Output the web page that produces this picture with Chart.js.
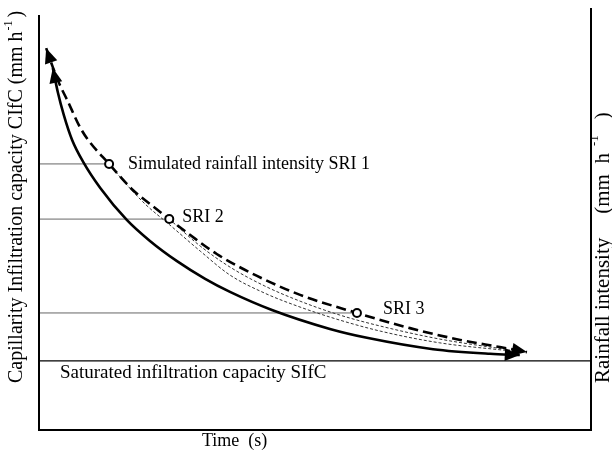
<!DOCTYPE html>
<html>
<head>
<meta charset="utf-8">
<script src="https://cdn.jsdelivr.net/npm/chart.js@4.4.0/dist/chart.umd.min.js"></script>
<style>
  body { margin: 0; background: #fff; }
  #wrap { width: 612px; height: 452px; }
</style>
</head>
<body>
<div id="wrap"><canvas id="chart"></canvas></div>
<script>
// Eixos sem marcas: tempo e intensidade em unidades relativas 0-100
const dashedTime = [1.3, 2.5, 3.8, 5.1, 7.4, 8.9, 12.7, 17.0, 20.1, 23.6, 27.4, 32.2, 39.5, 47.3, 57.6, 67.2, 76.3, 83.5, 88.4];
const dashedRate = [90.7, 86.2, 81.9, 78.4, 72.0, 68.9, 63.2, 57.0, 53.7, 50.1, 46.3, 41.8, 36.6, 32.1, 27.8, 24.2, 21.4, 19.7, 18.5];

const solidTime = [2.5, 3.4, 4.5, 6.0, 8.0, 11.1, 15.9, 20.1, 25.0, 30.1, 34.6, 42.2, 52.7, 59.4, 71.4, 81.7, 87.1];
const solidRate = [86.0, 80.3, 74.8, 68.9, 63.7, 57.5, 49.9, 44.9, 40.1, 35.9, 32.8, 28.5, 24.0, 21.9, 19.2, 18.1, 17.8];

// curvas finas a partir de SRI 1 e SRI 2
const thin1Time = [12.7, 15.6, 19.2, 23.7, 29.2, 34.6, 40.9, 47.3, 54.5, 61.8, 72.6, 85.3];
const thin1Rate = [63.2, 58.7, 53.7, 48.7, 42.5, 36.8, 32.5, 29.2, 26.1, 23.5, 20.7, 18.8];
const thin2Time = [23.6, 29.2, 34.6, 40.9, 47.3, 54.5, 61.8, 72.6, 85.3];
const thin2Rate = [50.1, 43.7, 38.7, 34.2, 30.6, 27.3, 24.7, 21.6, 19.0];

// intensidades simuladas
const sriTime = [12.7, 23.6, 57.6];
const sriRate = [63.2, 50.1, 27.8];
const sriLabels = ['Simulated rainfall intensity SRI 1', 'SRI 2', 'SRI 3'];
const sifcRate = 16.4;
const sifcLabel = 'Saturated infiltration capacity SIfC';

const FONT = '"Liberation Serif", "Times New Roman", serif';

const pts = (xs, ys) => xs.map((x, i) => ({ x, y: ys[i] }));

function arrowHead(ctx, tip, from, len, half) {
  const a = Math.atan2(tip.y - from.y, tip.x - from.x);
  const bx = tip.x - len * Math.cos(a), by = tip.y - len * Math.sin(a);
  ctx.beginPath();
  ctx.moveTo(tip.x, tip.y);
  ctx.lineTo(bx + half * Math.sin(a), by - half * Math.cos(a));
  ctx.lineTo(bx - half * Math.sin(a), by + half * Math.cos(a));
  ctx.closePath();
  ctx.fill();
}

// texto girado com expoente (h^-1); começa em (x, y) e sobe
function richText(ctx, parts, x, y, size) {
  ctx.save();
  ctx.translate(x, y);
  ctx.rotate(-Math.PI / 2);
  ctx.textBaseline = 'middle';
  ctx.textAlign = 'left';
  let cx = 0;
  parts.forEach(p => {
    if (p.gap) { cx += p.gap; return; }
    ctx.font = (p.sup ? Math.round(size * 0.6) : size) + 'px ' + FONT;
    ctx.fillText(p.text, cx, p.sup ? -size * 0.4 : 0);
    cx += ctx.measureText(p.text).width;
  });
  ctx.restore();
}

const annotate = {
  id: 'annotate',
  afterDatasetsDraw(chart) {
    const ctx = chart.ctx;
    const area = chart.chartArea;
    const sx = chart.scales.x, sy = chart.scales.y;
    ctx.save();

    // eixo esquerdo (começa um pouco abaixo do direito)
    ctx.strokeStyle = '#000';
    ctx.lineWidth = 2;
    ctx.beginPath();
    ctx.moveTo(area.left, area.top + 6);
    ctx.lineTo(area.left, area.bottom + 1);
    ctx.stroke();

    ctx.fillStyle = '#000';
    chart.data.datasets.forEach((ds, i) => {
      if (!ds.arrows) return;
      const p = chart.getDatasetMeta(i).data;
      arrowHead(ctx, p[0], p[1], 15, 6.5);
      arrowHead(ctx, p[p.length - 1], p[p.length - 2], 15, 6.5);
    });

    ctx.font = '18px ' + FONT;
    ctx.textBaseline = 'middle';
    ctx.textAlign = 'left';
    const offsets = [[19, 0], [13, -2], [26, -4]];
    sriLabels.forEach((t, i) => {
      ctx.fillText(t, sx.getPixelForValue(sriTime[i]) + offsets[i][0], sy.getPixelForValue(sriRate[i]) + offsets[i][1]);
    });
    ctx.fillText('Time  (s)', 202, 441);
    ctx.font = '19px ' + FONT;
    ctx.fillText(sifcLabel, area.left + 21, sy.getPixelForValue(sifcRate) + 12);

    richText(ctx, [
      { text: 'Capillarity Infiltration capacity CIfC (mm h' },
      { gap: 1 },
      { text: '-1', sup: true },
      { gap: 3 },
      { text: ')' }
    ], 17, 383, 20);
    richText(ctx, [
      { text: 'Rainfall intensity' },
      { gap: 24 },
      { text: '(mm  h' },
      { gap: 7 },
      { text: '-1', sup: true },
      { gap: 16 },
      { text: ')' }
    ], 603, 383, 21);
    ctx.restore();
  }
};

const hidden = { display: false };

new Chart(document.getElementById('chart'), {
  type: 'scatter',
  data: {
    datasets: [
      {
        data: pts(sriTime, sriRate),
        pointRadius: 4,
        pointBorderWidth: 2,
        pointBorderColor: '#000',
        pointBackgroundColor: '#fff'
      },
      {
        data: pts(dashedTime, dashedRate),
        showLine: true, pointRadius: 0, arrows: true,
        borderColor: '#000', borderWidth: 2.6, borderDash: [10, 5],
        cubicInterpolationMode: 'monotone'
      },
      {
        data: pts(solidTime, solidRate),
        showLine: true, pointRadius: 0, arrows: true,
        borderColor: '#000', borderWidth: 2.6,
        cubicInterpolationMode: 'monotone'
      },
      {
        data: pts(thin1Time, thin1Rate),
        showLine: true, pointRadius: 0,
        borderColor: '#333', borderWidth: 1, borderDash: [3, 2],
        cubicInterpolationMode: 'monotone'
      },
      {
        data: pts(thin2Time, thin2Rate),
        showLine: true, pointRadius: 0,
        borderColor: '#333', borderWidth: 1, borderDash: [3, 2],
        cubicInterpolationMode: 'monotone'
      },
      // linhas horizontais de cada SRI até o círculo
      ...sriRate.map((r, i) => ({
        data: [{ x: 0, y: r }, { x: sriTime[i], y: r }],
        showLine: true, pointRadius: 0,
        borderColor: '#666', borderWidth: 1
      })),
      {
        data: [{ x: 0, y: sifcRate }, { x: 100, y: sifcRate }],
        showLine: true, pointRadius: 0,
        borderColor: '#000', borderWidth: 1.2
      }
    ]
  },
  options: {
    responsive: true,
    maintainAspectRatio: false,
    animation: false,
    layout: { padding: { top: 9, left: 0, right: 0, bottom: 0 } },
    plugins: { legend: hidden, tooltip: { enabled: false } },
    scales: {
      x: {
        type: 'linear', min: 0, max: 100, position: 'bottom',
        ticks: hidden, grid: { display: false },
        border: { display: true, color: '#000', width: 2 },
        afterFit: s => { s.height = 22; }
      },
      y: {
        type: 'linear', min: 0, max: 100, position: 'left',
        ticks: hidden, grid: { display: false },
        border: { display: false },
        afterFit: s => { s.width = 39; }
      },
      y2: {
        type: 'linear', min: 0, max: 100, position: 'right',
        ticks: hidden, grid: { display: false },
        border: { display: true, color: '#000', width: 2 },
        afterFit: s => { s.width = 21; }
      }
    }
  },
  plugins: [annotate]
});
</script>
</body>
</html>
